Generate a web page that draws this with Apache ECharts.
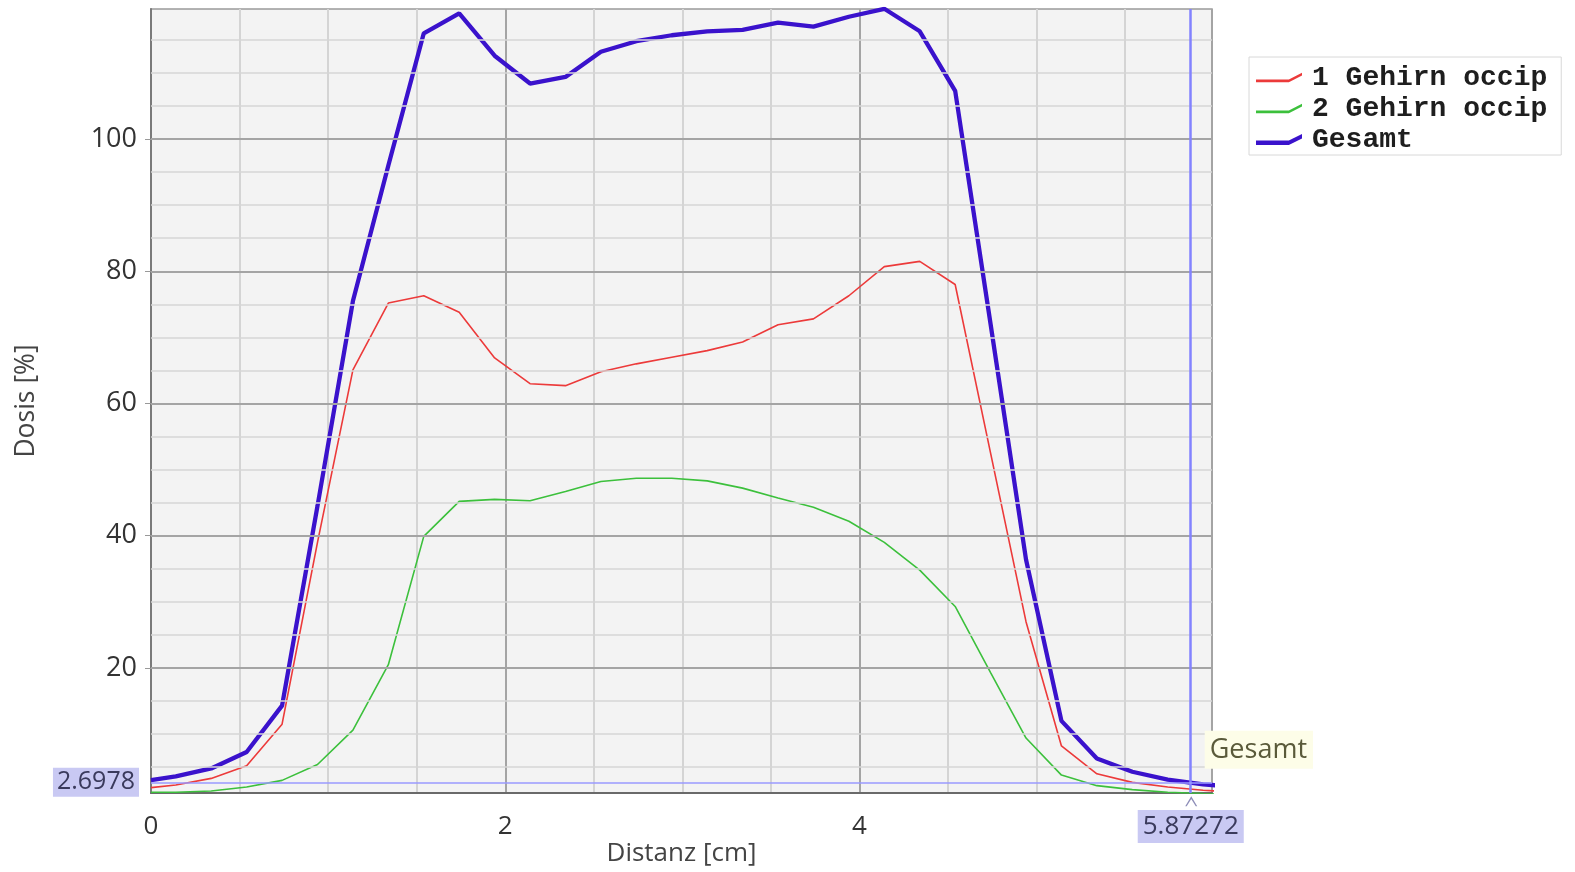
<!DOCTYPE html>
<html>
<head>
<meta charset="utf-8">
<script src="https://cdn.jsdelivr.net/npm/echarts@6/dist/echarts.min.js"></script>
<style>
  html, body { margin: 0; padding: 0; background: #ffffff; }
  #chart { width: 1575px; height: 872px; }
</style>
</head>
<body>
<div id="chart"></div>
<script>
// ---- data ----
const seriesNames = ['1 Gehirn occip', '2 Gehirn occip', 'Gesamt'];
const distance = [0, 0.14, 0.34, 0.54, 0.74, 0.94, 1.14, 1.34, 1.54, 1.74, 1.94, 2.14, 2.34, 2.54, 2.74, 2.94,
  3.14, 3.34, 3.54, 3.74, 3.94, 4.14, 4.34, 4.54, 4.74, 4.94, 5.14, 5.34, 5.54, 5.74, 5.94, 6.14];
const dose1 = [1.9, 2.3, 3.3, 5.2, 11.5, 39.0, 65.1, 75.2, 76.3, 73.8, 66.9, 63.0, 62.7, 64.8, 66.0, 67.0,
  68.0, 69.3, 71.9, 72.8, 76.3, 80.7, 81.5, 78.0, 52.5, 27.0, 8.2, 4.0, 2.7, 2.0, 1.5, 1.2];
const dose2 = [1.2, 1.2, 1.4, 2.0, 3.0, 5.4, 10.6, 20.5, 39.9, 45.2, 45.5, 45.3, 46.7, 48.2, 48.7, 48.7,
  48.3, 47.2, 45.7, 44.3, 42.2, 39.0, 34.8, 29.3, 19.3, 9.4, 3.8, 2.2, 1.6, 1.2, 1.0, 0.9];
const doseTotal = [3.05, 3.6, 4.8, 7.3, 14.3, 44.5, 75.5, 96.0, 116.0, 119.0, 112.6, 108.4, 109.4, 113.2, 114.8, 115.7,
  116.3, 116.5, 117.6, 117.0, 118.5, 119.7, 116.3, 107.3, 72.0, 36.4, 12.0, 6.3, 4.3, 3.1, 2.4, 2.0];
const yTickLabels = [20, 40, 60, 80, 100];
const xTickLabels = [0, 2, 4];
const cursorX = 5.87272;
const cursorY = 2.6978;
const cursorXText = '5.87272';
const cursorYText = '2.6978';
const cursorSeriesText = 'Gesamt';
const xRange = [0, 5.99];
const yRange = [1.09, 119.67];
const yMinorStep = 5;

// ---- chart ----
const FONT = 'Open Sans';
const colors = ['#ec3a3a', '#3cc03c', '#3a12cc'];

function pairs(ys) { return distance.map((x, i) => [x, ys[i]]); }

const gridLines = [];
for (let v = yMinorStep; v < yRange[1]; v += yMinorStep) {
  const major = yTickLabels.indexOf(v) >= 0;
  gridLines.push({
    yAxis: v,
    lineStyle: { color: major ? '#a4a4a4' : '#d6d6d6', width: major ? 2 : 1.5, type: 'solid' }
  });
}

const lineIcon = 'path://M0,8 L30,8 L42,2 L42,4.5 L30,10.5 L0,10.5 Z';
const lineIconBold = 'path://M0,7 L30,7 L42,1 L42,5 L30,11 L0,11 Z';

const chart = echarts.init(document.getElementById('chart'), null, { renderer: 'canvas' });
chart.setOption({
  animation: false,
  backgroundColor: '#ffffff',
  grid: {
    left: 151, right: 363, top: 9, bottom: 79,
    outerBoundsMode: 'none', containLabel: false,
    show: true, backgroundColor: '#f3f3f3', borderColor: '#9a9a9a', borderWidth: 1.5
  },
  legend: {
    orient: 'vertical',
    left: 1249, top: 57,
    itemWidth: 46, itemHeight: 12, itemGap: 0,
    padding: [5, 14, 0, 7],
    borderColor: '#d8d8d8', borderWidth: 1, backgroundColor: '#ffffff',
    textStyle: {
      fontFamily: 'Liberation Mono', fontWeight: 'bold', fontSize: 28, color: '#1e1e1e',
      lineHeight: 31, padding: [0, 0, 0, 5]
    },
    data: [
      { name: seriesNames[0], icon: lineIcon },
      { name: seriesNames[1], icon: lineIcon },
      { name: seriesNames[2], icon: lineIconBold }
    ]
  },
  xAxis: {
    type: 'value',
    min: xRange[0], max: xRange[1], interval: 0.5,
    name: 'Distanz [cm]', nameLocation: 'middle', nameGap: 48, nameMoveOverlap: false,
    nameTextStyle: { fontFamily: FONT, fontSize: 26, color: '#444' },
    axisLine: { show: true, lineStyle: { color: '#6a6a6a', width: 2 } },
    axisTick: { show: false },
    axisLabel: {
      fontFamily: FONT, fontSize: 26, color: '#333', margin: 21,
      formatter: v => (xTickLabels.some(t => Math.abs(t - v) < 1e-9) ? String(v) : '')
    },
    splitLine: { show: true, lineStyle: { color: ['#a4a4a4', '#d4d4d4', '#d4d4d4', '#d4d4d4'], width: 2 } }
  },
  yAxis: {
    type: 'value',
    min: yRange[0], max: yRange[1],
    name: 'Dosis [%]', nameLocation: 'middle', nameGap: 111, nameRotate: 90, nameMoveOverlap: false,
    nameTextStyle: { fontFamily: FONT, fontSize: 26.5, color: '#444' },
    axisLine: { show: true, lineStyle: { color: '#7a7a7a', width: 2 } },
    axisTick: { show: true, customValues: yTickLabels, length: 6, lineStyle: { color: '#999' } },
    axisLabel: { customValues: yTickLabels, fontFamily: FONT, fontSize: 27, color: '#333', margin: 14 },
    splitLine: { show: false }
  },
  series: [
    {
      name: '__grid', type: 'line', data: [], z: 1, silent: true,
      markLine: { silent: true, symbol: 'none', label: { show: false }, data: gridLines, animation: false }
    },
    {
      name: seriesNames[0], type: 'line', data: pairs(dose1), z: 3,
      showSymbol: false, symbol: 'none', color: colors[0],
      lineStyle: { color: colors[0], width: 1.6 }
    },
    {
      name: seriesNames[1], type: 'line', data: pairs(dose2), z: 3,
      showSymbol: false, symbol: 'none', color: colors[1],
      lineStyle: { color: colors[1], width: 1.6 }
    },
    {
      name: seriesNames[2], type: 'line', data: pairs(doseTotal), z: 4,
      showSymbol: false, symbol: 'none', color: colors[2],
      lineStyle: { color: colors[2], width: 4.3 },
      markLine: {
        silent: true, symbol: 'none', animation: false,
        data: [
          {
            xAxis: cursorX,
            lineStyle: { color: '#8282ff', width: 2.5, type: 'solid' },
            label: {
              show: true, position: 'start', formatter: cursorXText, distance: 17,
              fontFamily: FONT, fontSize: 26, color: '#3a3a5c',
              backgroundColor: '#c9c9f3', padding: [4, 5, 3, 5]
            }
          },
          {
            yAxis: cursorY,
            lineStyle: { color: '#9a9aff', width: 1.5, type: 'solid' },
            label: {
              show: true, position: 'start', formatter: cursorYText, distance: 12,
              fontFamily: FONT, fontSize: 25, color: '#3a3a5c',
              backgroundColor: '#c9c9f3', padding: [3, 4, 1, 4]
            }
          }
        ]
      },
      markPoint: {
        silent: true, animation: false,
        data: [
          {
            coord: [cursorX, cursorY],
            symbol: 'path://M0,10 L6,0 L12,10 L10.5,10 L6,2.6 L1.5,10 Z',
            symbolSize: [12, 10], symbolOffset: [0, 19],
            itemStyle: { color: '#8e8eb8' },
            label: { show: false }
          },
          {
            coord: [cursorX, cursorY],
            symbol: 'rect', symbolSize: 1,
            itemStyle: { color: 'rgba(0,0,0,0)' },
            label: {
              show: true, formatter: cursorSeriesText, position: [14, -51],
              fontFamily: FONT, fontSize: 27, color: '#5a5a3a',
              backgroundColor: '#fdfde8', padding: [6, 6, 5, 5]
            }
          }
        ]
      }
    }
  ]
});
</script>
</body>
</html>
